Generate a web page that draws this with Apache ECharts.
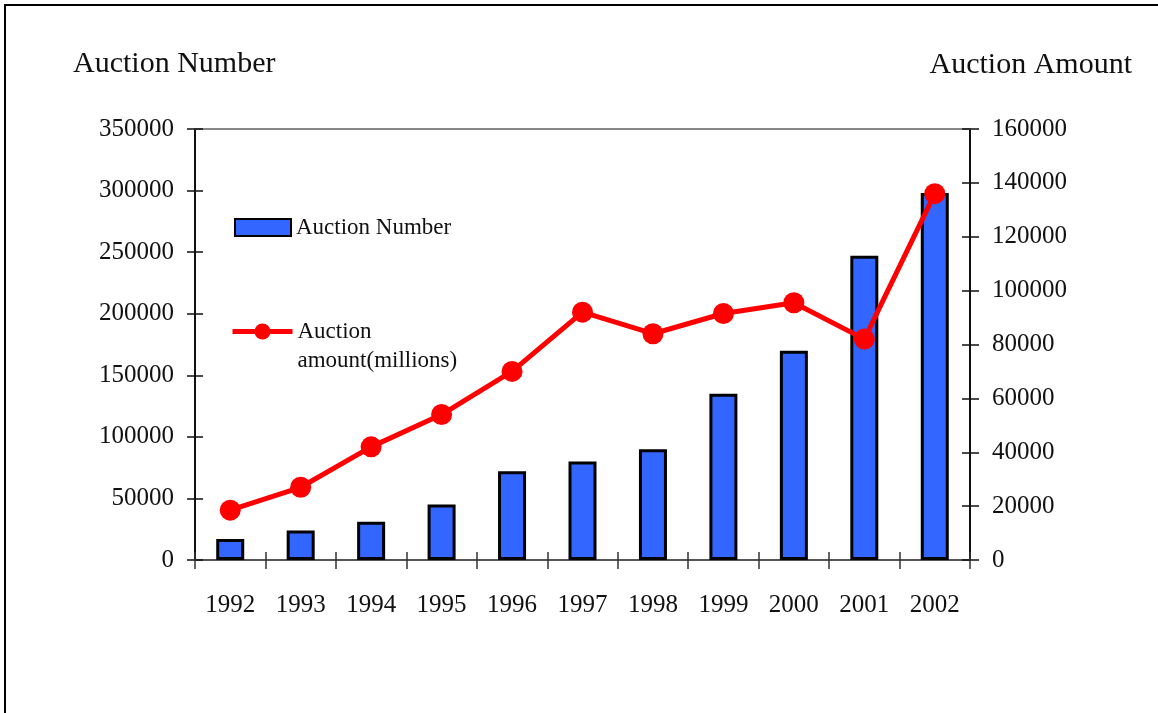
<!DOCTYPE html>
<html>
<head>
<meta charset="utf-8">
<script src="https://cdn.jsdelivr.net/npm/echarts@6/dist/echarts.min.js"></script>
<style>
  html, body { margin: 0; padding: 0; background: #fff; }
  #chart { width: 1158px; height: 713px; }
</style>
</head>
<body>
<div id="chart"></div>
<script>
const years = ['1992', '1993', '1994', '1995', '1996', '1997', '1998', '1999', '2000', '2001', '2002'];
const auctionNumber = [17000, 24000, 31000, 45000, 72000, 80000, 90000, 135000, 170000, 247000, 298000];
const auctionAmount = [18500, 27000, 42000, 54000, 70000, 92000, 84000, 91500, 95500, 82000, 136000];

const FONT = "'Liberation Serif', 'DejaVu Serif', serif";

const chart = echarts.init(document.getElementById('chart'), null, { renderer: 'canvas' });

const labelStyle = { color: '#111', fontFamily: FONT, fontSize: 25, formatter: v => String(v) };

const option = {
    backgroundColor: '#fff',
    animation: false,
    title: [
        { text: 'Auction Number', left: 68, top: 44, textStyle: { color: '#111', fontFamily: FONT, fontSize: 30, fontWeight: 'normal' } },
        { text: 'Auction Amount', right: 21, top: 45, textStyle: { color: '#111', fontFamily: FONT, fontSize: 30, fontWeight: 'normal' } }
    ],
    legend: [
        {
            data: [{ name: 'Auction Number', icon: 'rect' }],
            left: 234, top: 216, padding: 0,
            itemWidth: 56, itemHeight: 17,
            textStyle: { color: '#111', fontFamily: FONT, fontSize: 23 }
        },
        {
            data: ['Auction amount(millions)'],
            left: 230, top: 288, padding: 0,
            itemWidth: 60, itemHeight: 20,
            lineStyle: { width: 5 },
            // blank first line keeps the icon level with "Auction", as in the original
            formatter: () => '\nAuction\namount(millions)',
            textStyle: { color: '#111', fontFamily: FONT, fontSize: 23, lineHeight: 29 }
        }
    ],
    grid: { left: 195, right: 188, top: 129, bottom: 153, containLabel: false },
    xAxis: [
        {
            type: 'category', data: years, position: 'bottom', boundaryGap: true,
            axisLine: { onZero: false, lineStyle: { color: '#555', width: 2 } },
            axisTick: { show: true, inside: false, length: 9, lineStyle: { color: '#333', width: 1.5 } },
            axisLabel: { color: '#111', fontFamily: FONT, fontSize: 25, margin: 33 }
        },
        {
            type: 'category', data: years, position: 'bottom', boundaryGap: true,
            axisLine: { show: false, onZero: false },
            axisTick: { show: true, inside: true, length: 8, lineStyle: { color: '#333', width: 1.5 } },
            axisLabel: { show: false }
        },
        {
            type: 'category', data: years, position: 'top', boundaryGap: true,
            axisLine: { show: true, onZero: false, lineStyle: { color: '#888', width: 2 } },
            axisTick: { show: false },
            axisLabel: { show: false }
        }
    ],
    yAxis: [
        {
            type: 'value', position: 'left', min: 0, max: 350000, interval: 50000,
            axisLine: { show: true, onZero: false, lineStyle: { color: '#111', width: 2 } },
            axisTick: { show: true, inside: false, length: 8, lineStyle: { color: '#111', width: 1.5 } },
            axisLabel: { ...labelStyle, margin: 21 },
            splitLine: { show: false }
        },
        {
            type: 'value', position: 'left', min: 0, max: 350000, interval: 50000,
            axisLine: { show: false, onZero: false },
            axisTick: { show: true, inside: true, length: 8, lineStyle: { color: '#111', width: 1.5 } },
            axisLabel: { show: false },
            splitLine: { show: false }
        },
        {
            type: 'value', position: 'right', min: 0, max: 160000, interval: 20000,
            axisLine: { show: true, onZero: false, lineStyle: { color: '#111', width: 2 } },
            axisTick: { show: true, inside: false, length: 9, lineStyle: { color: '#111', width: 1.5 } },
            axisLabel: { ...labelStyle, margin: 22 },
            splitLine: { show: false }
        },
        {
            type: 'value', position: 'right', min: 0, max: 160000, interval: 20000,
            axisLine: { show: false, onZero: false },
            axisTick: { show: true, inside: true, length: 8, lineStyle: { color: '#111', width: 1.5 } },
            axisLabel: { show: false },
            splitLine: { show: false }
        }
    ],
    series: [
        {
            name: 'Auction Number',
            type: 'bar',
            xAxisIndex: 0, yAxisIndex: 0,
            data: auctionNumber,
            barWidth: 28,
            itemStyle: { color: '#3366FF', borderColor: '#000', borderWidth: 3 }
        },
        {
            name: 'Auction amount(millions)',
            type: 'line',
            xAxisIndex: 0, yAxisIndex: 2,
            data: auctionAmount,
            symbol: 'circle', symbolSize: 21,
            lineStyle: { color: '#FF0000', width: 5 },
            itemStyle: { color: '#FF0000' },
            z: 5
        }
    ],
    graphic: [
        {
            type: 'polyline',
            shape: { points: [[5, 713], [5, 5], [1158, 5]] },
            style: { stroke: '#000', lineWidth: 2, fill: null },
            silent: true
        }
    ]
};

chart.setOption(option);
window.addEventListener('resize', chart.resize);
</script>
</body>
</html>
